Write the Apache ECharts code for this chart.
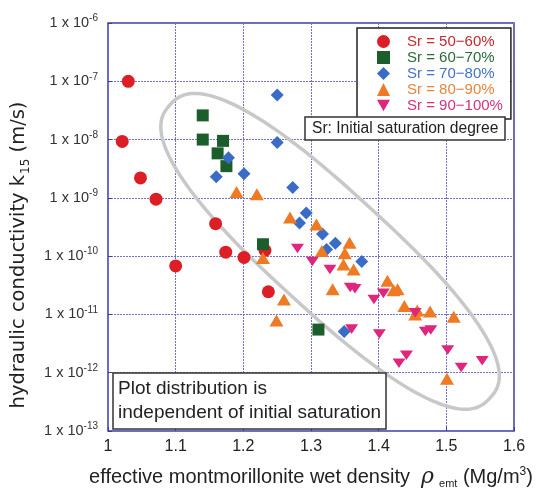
<!DOCTYPE html>
<html><head><meta charset="utf-8">
<script src="https://cdn.jsdelivr.net/npm/echarts@6/dist/echarts.min.js"></script>
<style>html,body{margin:0;padding:0;background:#fff}#c{width:537px;height:489px}</style>
</head><body><div id="c"></div><script>
// ---- data ----
const seriesNames = ['Sr = 50\u221260%', 'Sr = 60\u221270%', 'Sr = 70\u221280%', 'Sr = 80\u221290%', 'Sr = 90\u2212100%'];

const redX = [1.030, 1.021, 1.048, 1.071, 1.159, 1.100, 1.174, 1.201, 1.232, 1.237];
const redY = [1.0e-7, 9.3e-9, 2.2e-9, 9.5e-10, 3.6e-10, 6.8e-11, 1.17e-10, 9.5e-11, 1.26e-10, 2.45e-11];

const greenX = [1.140, 1.140, 1.170, 1.162, 1.175, 1.229, 1.311];
const greenY = [2.6e-8, 1.0e-8, 9.5e-9, 5.8e-9, 3.5e-9, 1.6e-10, 5.5e-12];

const blueX = [1.250, 1.250, 1.178, 1.160, 1.201, 1.273, 1.293, 1.283, 1.317, 1.336, 1.323, 1.375, 1.349];
const blueY = [5.8e-8, 8.9e-9, 4.9e-9, 2.3e-9, 2.6e-9, 1.5e-9, 5.5e-10, 3.7e-10, 2.4e-10, 1.66e-10, 1.3e-10, 8.1e-11, 5.1e-12];

const orangeX = [1.190, 1.220, 1.269, 1.308, 1.229, 1.260, 1.249, 1.316, 1.357, 1.350, 1.348, 1.363, 1.332, 1.413, 1.422, 1.428, 1.438, 1.457, 1.454, 1.476, 1.511, 1.501];
const orangeY = [1.26e-9, 1.15e-9, 4.6e-10, 3.5e-10, 9.3e-11, 1.8e-11, 7.9e-12, 1.23e-10, 1.7e-10, 1.12e-10, 7.2e-11, 5.9e-11, 2.7e-11, 3.8e-11, 2.6e-11, 2.7e-11, 1.4e-11, 1.17e-11, 1.0e-11, 1.12e-11, 9.1e-12, 7.9e-13];

const pinkX = [1.280, 1.302, 1.328, 1.358, 1.365, 1.393, 1.407, 1.454, 1.360, 1.401, 1.469, 1.477, 1.502, 1.441, 1.430, 1.522, 1.553];
const pinkY = [1.35e-10, 8.1e-11, 5.9e-11, 2.9e-11, 2.75e-11, 1.8e-11, 2.3e-11, 1.07e-11, 5.6e-12, 4.6e-12, 5.1e-12, 5.4e-12, 2.45e-12, 2.0e-12, 1.45e-12, 1.23e-12, 1.6e-12];

const xTicks = [1, 1.1, 1.2, 1.3, 1.4, 1.5, 1.6];
const yExponents = [-13, -12, -11, -10, -9, -8, -7, -6];

// ---- styling ----
const FONT = 'Liberation Sans, Arial, sans-serif';
const WIDE = 'DejaVu Sans, sans-serif';
const markerColors = ['#dc1f26', '#1b5e2c', '#3a6cc6', '#ee7a24', '#e0267c'];
const textColors = ['#c8282d', '#2a6b35', '#4474c4', '#e8843c', '#d6307e'];
const symbols = ['circle', 'rect', 'diamond', 'triangle', 'path://M0,0 L10,0 L5,8.7 Z'];
const sizes = [13, 12, [13, 13], [14, 12], [13, 11]];

const zip = (xs, ys) => xs.map((x, i) => [x, ys[i]]);
const allData = [zip(redX, redY), zip(greenX, greenY), zip(blueX, blueY), zip(orangeX, orangeY), zip(pinkX, pinkY)];

const chart = echarts.init(document.getElementById('c'));
const option = {
  backgroundColor: '#fff',
  animation: false,
  textStyle: { fontFamily: FONT },
  grid: {
    left: 108, right: 23, top: 23, bottom: 58, containLabel: false, outerBoundsMode: 'none',
    show: true, borderColor: '#3b3ba5', borderWidth: 1.5, backgroundColor: '#fff'
  },
  xAxis: {
    type: 'value', min: xTicks[0], max: xTicks[xTicks.length - 1], interval: 0.1,
    axisLine: { show: false },
    axisTick: { show: true, inside: true, length: 4, lineStyle: { color: '#3b3ba5' } },
    axisLabel: { fontSize: 16, color: '#222', margin: 8, formatter: v => (Math.round(v * 10) / 10).toString() },
    splitLine: { show: true, lineStyle: { color: '#7070c8', type: [2, 1], width: 1 } },
    name: '{a|effective montmorillonite wet density  }{r|\u03c1}{sub|emt}{a| (Mg/m}{sup|3}{a|)}',
    nameLocation: 'middle', nameGap: 34,
    nameTextStyle: {
      rich: {
        a: { fontSize: 20, color: '#222', fontFamily: FONT },
        r: { fontSize: 22, color: '#222', fontStyle: 'italic', fontFamily: 'DejaVu Serif, serif' },
        sub: { fontSize: 11, color: '#222', padding: [13, 0, 0, 5] },
        sup: { fontSize: 12, color: '#222', padding: [0, 0, 11, 0] }
      }
    }
  },
  yAxis: {
    type: 'log', logBase: 10, min: Math.pow(10, yExponents[0]), max: Math.pow(10, yExponents[yExponents.length - 1]),
    axisLine: { show: false },
    axisTick: { show: true, inside: true, length: 4, lineStyle: { color: '#3b3ba5' } },
    minorTick: { show: false },
    axisLabel: {
      margin: 10, color: '#333',
      formatter: v => '{b|1 x 10}{s|' + Math.round(Math.log10(v)) + '}',
      rich: {
        b: { fontSize: 14.5, color: '#333', fontFamily: FONT },
        s: { fontSize: 10, color: '#333', fontFamily: FONT, padding: [0, 0, 9, 0] }
      }
    },
    splitLine: { show: true, lineStyle: { color: '#7070c8', type: [2, 1], width: 1 } },
    name: '{a|hydraulic conductivity k}{sub|15}{a| (m/s)}',
    nameLocation: 'middle', nameGap: 76, nameRotate: 90,
    nameTextStyle: {
      padding: [0, 56, 0, 0],
      rich: {
        a: { fontSize: 19.5, color: '#222', fontFamily: WIDE },
        sub: { fontSize: 12, color: '#222', fontFamily: WIDE, padding: [14, 0, 0, 1] }
      }
    }
  },
  legend: {
    orient: 'vertical', left: 357, top: 28,
    backgroundColor: '#fff', borderColor: '#222', borderWidth: 1.5, borderRadius: 0,
    padding: [6, 8, 6, 20], itemWidth: 13, itemHeight: 13, itemGap: 1,
    textStyle: { fontSize: 15, lineHeight: 14, fontFamily: FONT, padding: [0, 0, 0, 12] },
    data: seriesNames.map((n, i) => ({ name: n, textStyle: { color: textColors[i], padding: [0, 0, 0, 12] } }))
  },
  title: [
    {
      text: 'Sr: Initial saturation degree', left: 305, top: 117,
      backgroundColor: '#fff', borderColor: '#333', borderWidth: 1.5, padding: [3, 7, 2, 7],
      textStyle: { fontSize: 15.6, fontWeight: 'normal', color: '#222', fontFamily: FONT, lineHeight: 18 }
    },
    {
      text: 'Plot distribution is\nindependent of initial saturation', left: 113, top: 373,
      backgroundColor: '#fff', borderColor: '#333', borderWidth: 1.5, padding: [4, 5, 4, 5],
      textStyle: { fontSize: 19, fontWeight: 'normal', color: '#222', fontFamily: FONT, lineHeight: 24 }
    }
  ],
  series: allData.map((d, i) => ({
    name: seriesNames[i], type: 'scatter', data: d,
    symbol: symbols[i], symbolSize: sizes[i], symbolKeepAspect: true, z: 3,
    itemStyle: { color: markerColors[i], opacity: 1 }
  }))
};
chart.setOption(option);

// grey envelope (annotation): rounded superellipse centred on a data position
const envCenter = [1.3282, 1.21e-10];
const envA = 217, envB = 59, envN = 2.5, envAngle = 42.5;
const c = chart.convertToPixel({ gridIndex: 0 }, envCenter);
const pts = [];
for (let k = 0; k < 180; k++) {
  const t = k / 180 * 2 * Math.PI;
  const ct = Math.cos(t), st = Math.sin(t);
  pts.push([envA * Math.sign(ct) * Math.pow(Math.abs(ct), 2 / envN), envB * Math.sign(st) * Math.pow(Math.abs(st), 2 / envN)]);
}
chart.setOption({
  graphic: [{
    type: 'polygon', x: c[0], y: c[1], rotation: -envAngle * Math.PI / 180, z: 1,
    shape: { points: pts },
    style: { fill: 'none', stroke: '#c8c8c8', lineWidth: 3.5 }
  }]
});
</script></body></html>
